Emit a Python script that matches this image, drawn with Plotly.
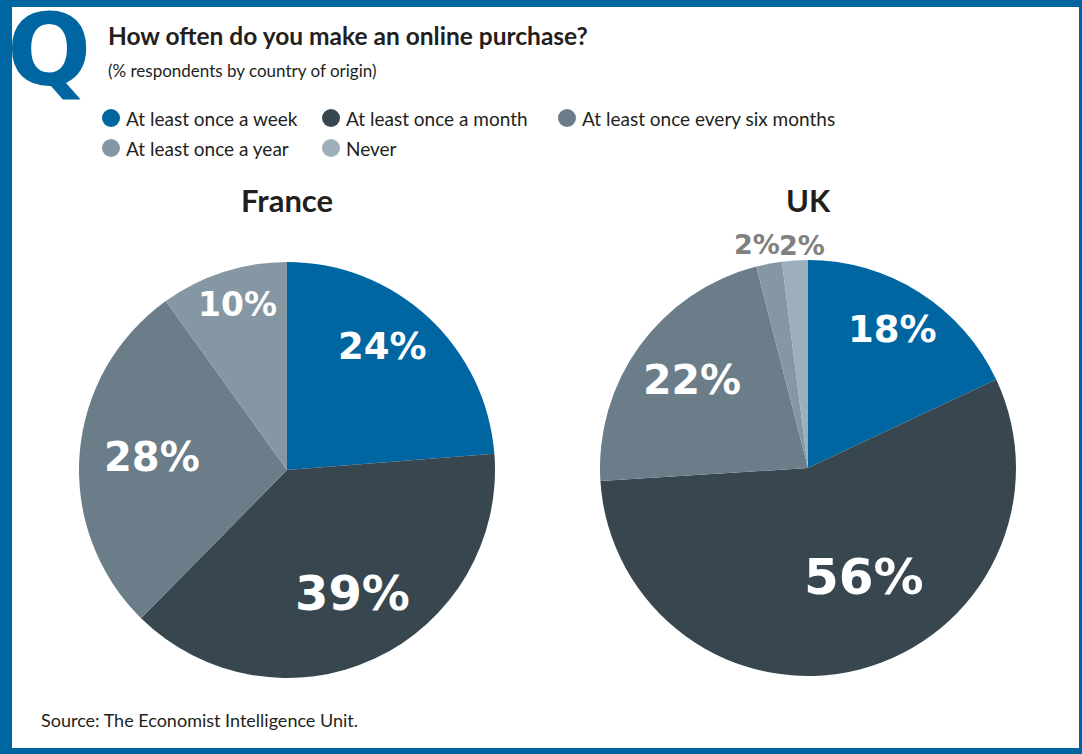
import math
import plotly.graph_objects as go

W, H = 1082, 754

# Survey data
categories = ["At least once a week", "At least once a month",
              "At least once every six months", "At least once a year", "Never"]
colors = ["#0066A1", "#37464F", "#6A7D89", "#8597A3", "#9DAFBB"]

france_values = [24, 39, 28, 10]
uk_values = [18, 56, 22, 2, 2]

countries = ["France", "UK"]

# Pie geometry in pixels: centre x, centre y, radius
pie_geom = {"France": (287, 470, 208), "UK": (808, 468, 208)}

# Label styling per slice: font size, radial fraction, angular nudge (deg), colour
france_label_style = [(37, 0.75, -5, "white"), (48, 0.67, -3, "white"),
                      (40, 0.65, 1, "white"), (33, 0.83, 1, "white")]
uk_label_style = [(37, 0.78, -1, "white"), (50, 0.59, -13, "white"),
                  (41, 0.70, 1, "white"), (27, 1.10, -2, "#808080"),
                  (27, 1.07, 2, "#808080")]


def px_x(x):
    return x / W


def px_y(y):
    return 1 - y / H


fig = go.Figure()
annotations = []
shapes = []

for name, values, style in [("France", france_values, france_label_style),
                            ("UK", uk_values, uk_label_style)]:
    cx, cy, r = pie_geom[name]
    n = len(values)
    fig.add_trace(go.Pie(
        values=values,
        labels=categories[:n],
        marker=dict(colors=colors[:n], line=dict(width=0)),
        sort=False, direction="clockwise", rotation=0,
        domain=dict(x=[px_x(cx - r), px_x(cx + r)], y=[px_y(cy + r), px_y(cy - r)]),
        textinfo="none",
        hoverinfo="label+value", showlegend=False,
    ))
    # Value labels placed along each slice's bisector
    total = sum(values)
    cum = 0
    for v, (size, frac, nudge, col) in zip(values, style):
        mid = (cum + v / 2) / total * 360 + nudge
        cum += v
        a = math.radians(mid)
        lx = cx + frac * r * math.sin(a)
        ly = cy - frac * r * math.cos(a)
        annotations.append(dict(
            text=f"<b>{v}%</b>", x=px_x(lx), y=px_y(ly), xref="paper", yref="paper",
            xanchor="center", yanchor="middle", showarrow=False,
            font=dict(family="DejaVu Sans", size=size, color=col),
        ))

# Frame
frame_color = "#0066A1"
for x0, x1, y0, y1 in [(0, W, 0, 7), (0, 12, 0, H), (1079, W, 0, H), (0, W, 748, H)]:
    shapes.append(dict(type="rect", xref="paper", yref="paper",
                       x0=px_x(x0), x1=px_x(x1), y0=px_y(y1), y1=px_y(y0),
                       fillcolor=frame_color, line=dict(width=0), layer="above"))

# Big Q mark
annotations.append(dict(
    text="<b>Q</b>", x=px_x(5), y=px_y(-9), xref="paper", yref="paper",
    xanchor="left", yanchor="top", showarrow=False,
    font=dict(family="DejaVu Sans", size=99, color=frame_color),
))

text_color = "#231F20"
annotations.append(dict(
    text="<b>How often do you make an online purchase?</b>",
    x=px_x(106), y=px_y(35), xref="paper", yref="paper",
    xanchor="left", yanchor="middle", showarrow=False,
    font=dict(family="Lato", size=24.5, color=text_color),
))
annotations.append(dict(
    text="(% respondents by country of origin)",
    x=px_x(106), y=px_y(70), xref="paper", yref="paper",
    xanchor="left", yanchor="middle", showarrow=False,
    font=dict(family="Lato", size=17, color=text_color),
))

# Legend drawn as circles + labels
legend_pos = [(111, 118), (331, 118), (567, 118), (111, 148), (331, 148)]
for name, col, (cx, cy) in zip(categories, colors, legend_pos):
    r = 9
    shapes.append(dict(type="circle", xref="paper", yref="paper",
                       x0=px_x(cx - r), x1=px_x(cx + r), y0=px_y(cy + r), y1=px_y(cy - r),
                       fillcolor=col, line=dict(width=0)))
    annotations.append(dict(
        text=name, x=px_x(cx + 13), y=px_y(cy), xref="paper", yref="paper",
        xanchor="left", yanchor="middle", showarrow=False,
        font=dict(family="Lato", size=19, color=text_color),
    ))

# Country titles
for name in countries:
    annotations.append(dict(
        text=f"<b>{name}</b>", x=px_x(pie_geom[name][0]), y=px_y(200),
        xref="paper", yref="paper",
        xanchor="center", yanchor="middle", showarrow=False,
        font=dict(family="Lato", size=31, color=text_color),
    ))

annotations.append(dict(
    text="Source: The Economist Intelligence Unit.",
    x=px_x(39), y=px_y(720), xref="paper", yref="paper",
    xanchor="left", yanchor="middle", showarrow=False,
    font=dict(family="Lato", size=18, color=text_color),
))

fig.update_layout(
    width=W, height=H,
    margin=dict(l=0, r=0, t=0, b=0),
    paper_bgcolor="white", plot_bgcolor="white",
    shapes=shapes, annotations=annotations,
    showlegend=False,
)

fig.write_html("out.html")
